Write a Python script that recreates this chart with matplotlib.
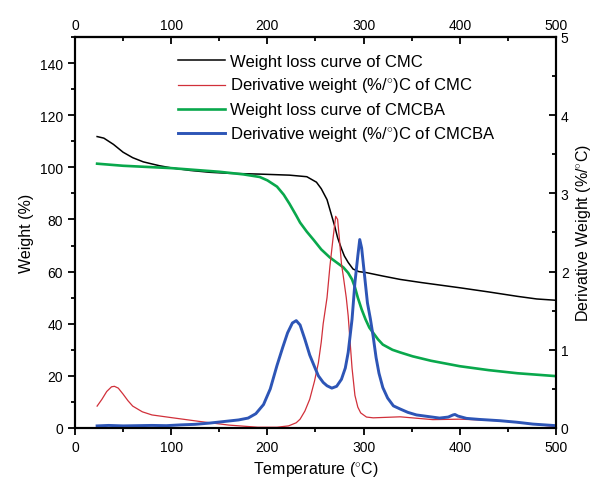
import numpy as np
import matplotlib
matplotlib.use("Agg")
import matplotlib.pyplot as plt
from matplotlib.ticker import MultipleLocator

plt.rcParams['font.family'] = ['Liberation Sans', 'DejaVu Sans']
plt.rcParams['mathtext.fontset'] = 'custom'
plt.rcParams['mathtext.rm'] = 'Liberation Sans'

##### Weight loss curves (Weight %)
t_cmc = [23, 30, 40, 50, 60, 71, 80, 88, 100, 120,
         140, 160, 192, 223, 241, 251, 256, 262, 266, 270,
         273, 277, 280, 284, 289, 295, 303, 320, 338, 360,
         380, 400, 430, 460, 480, 500]
w_cmc = [111.8, 111.2, 108.8, 105.8, 103.7, 102.1, 101.3, 100.6, 99.8, 98.8,
         98.1, 97.7, 97.4, 97.0, 96.4, 94.3, 91.8, 87.6, 82.5, 77.4,
         73.0, 68.8, 66.0, 63.5, 61.0, 60.0, 59.6, 58.3, 57.0, 55.8,
         54.8, 53.8, 52.2, 50.5, 49.5, 49.0]

t_cmcba = [23, 50, 100, 150, 175, 192, 200, 210, 217, 223,
           230, 234, 241, 248, 256, 265, 272, 279, 284, 288,
           291, 294, 298, 302, 306, 310, 315, 320, 330, 338,
           351, 370, 400, 430, 460, 500]
w_cmcba = [101.4, 100.6, 99.7, 98.3, 97.3, 96.3, 95.0, 92.6, 89.5, 86.0,
           81.5, 78.8, 75.3, 72.2, 68.5, 65.4, 63.5, 61.6, 59.5, 57.0,
           54.0, 50.0, 45.5, 41.7, 38.5, 36.5, 34.0, 32.0, 30.0, 29.0,
           27.5, 25.8, 23.7, 22.2, 21.0, 19.9]

##### Derivative curves (%/C)
td_cmc = [23, 28, 33, 38, 41, 45, 50, 55, 60, 70,
          80, 100, 130, 160, 190, 210, 222, 230, 234, 239,
          244, 249, 253, 256, 258, 262, 265, 268, 271, 273,
          275, 277, 279, 282, 284, 286, 288, 291, 294, 297,
          303, 310, 338, 372, 400, 442, 476, 500]
d_cmc = [0.280, 0.367, 0.467, 0.527, 0.533, 0.510, 0.433, 0.350, 0.280, 0.207,
         0.167, 0.133, 0.083, 0.037, 0.010, 0.010, 0.027, 0.067, 0.113, 0.217,
         0.367, 0.600, 0.833, 1.100, 1.333, 1.667, 2.067, 2.400, 2.707, 2.667,
         2.400, 2.100, 1.933, 1.667, 1.433, 1.100, 0.767, 0.417, 0.267, 0.193,
         0.140, 0.130, 0.143, 0.107, 0.113, 0.093, 0.050, 0.017]

td_cmcba = [23, 35, 50, 65, 80, 95, 110, 125, 140, 155,
            170, 180, 188, 196, 203, 210, 216, 221, 226, 230,
            234, 239, 244, 249, 253, 258, 262, 267, 272, 277,
            281, 284, 288, 291, 294, 296, 298, 300, 304, 307,
            310, 313, 316, 320, 325, 331, 338, 346, 355, 367,
            379, 388, 393, 395, 398, 407, 420, 442, 460, 476,
            500]
d_cmcba = [0.027, 0.033, 0.027, 0.030, 0.033, 0.030, 0.040, 0.047, 0.063, 0.083,
           0.103, 0.127, 0.183, 0.300, 0.500, 0.800, 1.033, 1.217, 1.343, 1.373,
           1.317, 1.133, 0.933, 0.783, 0.667, 0.583, 0.540, 0.510, 0.533, 0.623,
           0.767, 0.967, 1.390, 1.860, 2.200, 2.410, 2.300, 2.067, 1.600, 1.400,
           1.167, 0.900, 0.700, 0.517, 0.383, 0.283, 0.243, 0.200, 0.167, 0.147,
           0.127, 0.140, 0.167, 0.173, 0.153, 0.123, 0.110, 0.093, 0.073, 0.050,
           0.030]

labels = ["Weight loss curve of CMC",
          r"Derivative weight (%/$^{\circ}$)C of CMC",
          "Weight loss curve of CMCBA",
          r"Derivative weight (%/$^{\circ}$)C of CMCBA"]

####### Plot
fig = plt.figure(figsize=(5.97, 4.89), dpi=100)
ax = fig.add_axes([0.1256, 0.1227, 0.8057, 0.7996])
ax2 = ax.twinx()

l1, = ax.plot(t_cmc, w_cmc, color='black', lw=1.1, label=labels[0])
l3, = ax.plot(t_cmcba, w_cmcba, color='#09a84c', lw=1.9, label=labels[2])
l2, = ax2.plot(td_cmc, d_cmc, color='#d1303a', lw=0.9, label=labels[1])
l4, = ax2.plot(td_cmcba, d_cmcba, color='#2d55b6', lw=2.1, label=labels[3])

ax.set_xlim(0, 500)
ax.set_ylim(0, 150)
ax2.set_ylim(0, 5)

ax.xaxis.set_major_locator(MultipleLocator(100))
ax.xaxis.set_minor_locator(MultipleLocator(50))
ax.yaxis.set_minor_locator(MultipleLocator(10))
ax.set_yticks(range(0, 141, 20))
ax2.yaxis.set_major_locator(MultipleLocator(1))
ax2.yaxis.set_minor_locator(MultipleLocator(0.5))

ax.tick_params(axis='both', which='major', direction='out', length=5, width=1.3, labelsize=10)
ax.tick_params(axis='both', which='minor', direction='out', length=3, width=1.3)
ax2.tick_params(axis='y', which='major', direction='in', length=5, width=1.3, labelsize=10)
ax2.tick_params(axis='y', which='minor', direction='in', length=3, width=1.3)

top = ax.secondary_xaxis('top')
top.xaxis.set_major_locator(MultipleLocator(100))
top.xaxis.set_minor_locator(MultipleLocator(50))
top.tick_params(which='major', direction='in', length=5, width=1.3, labelsize=10)
top.tick_params(which='minor', direction='in', length=3, width=1.3)

for a in (ax, ax2):
    for s in a.spines.values():
        s.set_linewidth(1.5)
top.spines['top'].set_linewidth(1.5)

ax.set_xlabel(r"Temperature ($^{\circ}$C)", fontsize=11.5)
ax.set_ylabel("Weight (%)", fontsize=11.5)
ax2.set_ylabel(r"Derivative Weight (%/$^{\circ}$C)", fontsize=11.5)

leg = ax2.legend(handles=[l1, l2, l3, l4], loc='upper left', bbox_to_anchor=(0.2, 0.974),
                 frameon=False, fontsize=12, handlelength=2.8, handletextpad=0.3,
                 labelspacing=0.42, borderaxespad=0.0)

fig.savefig("out.png", dpi=100)
